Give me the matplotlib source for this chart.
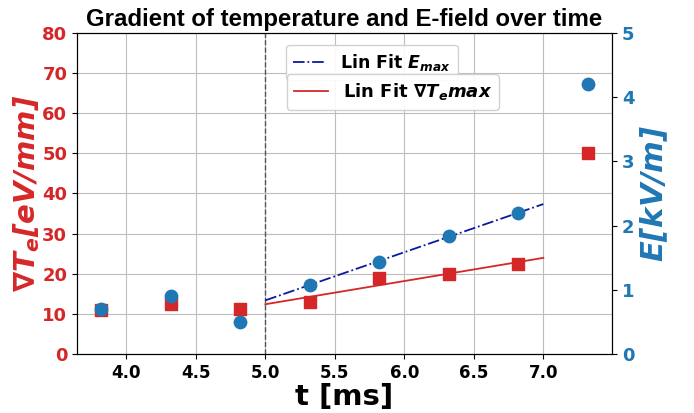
import numpy as np
import matplotlib
matplotlib.use("Agg")
import matplotlib.pyplot as plt
from matplotlib.lines import Line2D

t = [3.82, 4.32, 4.82, 5.32, 5.82, 6.32, 6.82, 7.32]
grad_te = [11.0, 12.5, 11.3, 13.0, 19.0, 20.0, 22.3, 50.0]
e_field = [0.70, 0.90, 0.50, 1.08, 1.44, 1.83, 2.20, 4.20]
fit_idx = [3, 4, 5, 6]
fit_range = [5.0, 7.0]

RED = "#d62728"
BLUE = "#1f77b4"

fig = plt.figure(figsize=(6.94, 4.13), dpi=100)
ax = fig.add_axes([0.111, 0.143, 0.771, 0.777])
ax2 = ax.twinx()

ax.scatter(t, grad_te, marker="s", s=70, color=RED, zorder=3)
ax2.scatter(t, e_field, marker="o", s=80, color=BLUE, zorder=3)

tf = np.array([t[i] for i in fit_idx])
pr = np.polyfit(tf, [grad_te[i] for i in fit_idx], 1)
pb = np.polyfit(tf, [e_field[i] for i in fit_idx], 1)
xf = np.array(fit_range)
ax.plot(xf, np.polyval(pr, xf), color=RED, lw=1.3, zorder=2)
ax2.plot(xf, np.polyval(pb, xf), color="#0a1aa0", lw=1.3, ls="-.", zorder=2)

ax.axvline(5.0, color="#555555", ls="--", lw=1.0)

ax.set_ylim(0, 80)
ax2.set_ylim(0, 5)
ax.set_yticks(range(0, 81, 10))
ax2.set_yticks(range(0, 6))
ax.set_xticks([4.0, 4.5, 5.0, 5.5, 6.0, 6.5, 7.0])
ax.grid(True, color="#bdbdbd", lw=0.8)
ax.set_axisbelow(True)

for lab in ax.get_yticklabels():
    lab.set_color(RED); lab.set_fontweight("bold"); lab.set_fontsize(13)
for lab in ax2.get_yticklabels():
    lab.set_color(BLUE); lab.set_fontweight("bold"); lab.set_fontsize(13)
for lab in ax.get_xticklabels():
    lab.set_fontweight("bold"); lab.set_fontsize(12)

ax.set_ylabel(r"$\mathbfit{\nabla T_e[eV/mm]}$", color=RED, fontsize=21, labelpad=0)
ax2.set_ylabel(r"$\mathbfit{E[kV/m]}$", color=BLUE, fontsize=22, labelpad=3)
ax.set_xlabel("t [ms]", fontsize=21, fontweight="bold", labelpad=1)
ax.set_title("Gradient of temperature and E-field over time", fontsize=17.3,
             fontweight="bold", family="Liberation Sans", pad=5)

h1 = [Line2D([], [], color="#0a1aa0", ls="-.", lw=1.3)]
h2 = [Line2D([], [], color=RED, lw=1.3)]
leg1 = ax2.legend(h1, [r"Lin Fit $\mathbfit{E_{max}}$"], loc="upper left",
                  bbox_to_anchor=(0.375, 0.99), prop={"weight": "bold", "size": 12.5},
                  framealpha=0.9, handlelength=1.9)
ax2.add_artist(leg1)
ax2.legend(h2, [r"Lin Fit $\mathbfit{\nabla T_e max}$"], loc="upper left",
           bbox_to_anchor=(0.375, 0.9), prop={"weight": "bold", "size": 13},
           framealpha=0.9, handlelength=1.9)

fig.savefig("out.png", dpi=100)
